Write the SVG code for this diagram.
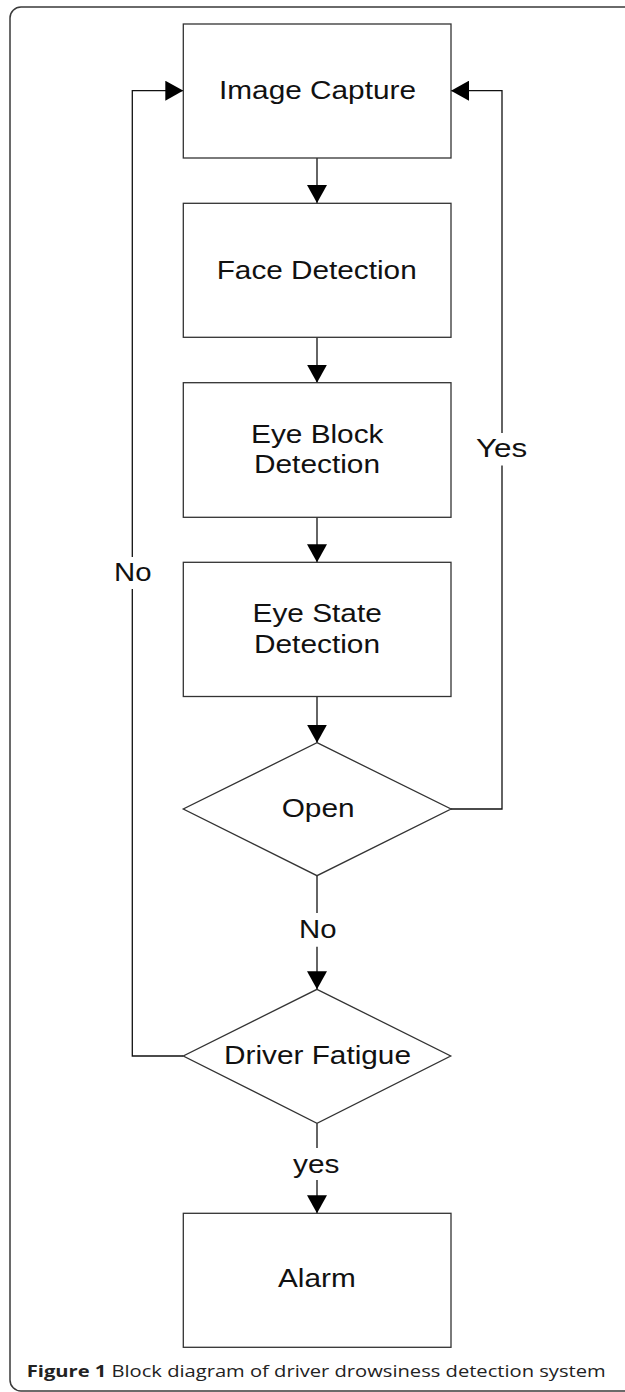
<svg xmlns="http://www.w3.org/2000/svg" width="625" height="1392" viewBox="0 0 625 1392">
  <style>
    .frame { fill: none; stroke: #3a3a3a; stroke-width: 1.5; }
    .box { fill: #ffffff; stroke: #333333; stroke-width: 1.3; }
    .wire { fill: none; stroke: #111111; stroke-width: 1.3; }
    .wire.arrow { marker-end: url(#head); }
    .lbl { font-family: "Liberation Sans", Arial, sans-serif; font-size: 26px; fill: #111111; }
    .cap { font-family: "Open Sans", "Noto Sans", sans-serif; font-size: 16px; fill: #222222; }
    .cap .b { font-weight: bold; }
  </style>
  <defs>
    <marker id="head" markerUnits="userSpaceOnUse" markerWidth="18" markerHeight="20" refX="18" refY="10" orient="auto">
      <path d="M0,0 L18,10 L0,20 Z" fill="#000000"/>
    </marker>
  </defs>

  <rect x="0" y="0" width="625" height="1392" fill="#ffffff"/>
  <!-- figure frame, right side runs past the page edge -->
  <rect class="frame" x="10" y="7" width="640" height="1384" rx="11" ry="11"/>

  <g id="connectors">
    <path class="wire arrow" d="M317,158 V203"/>
    <path class="wire arrow" d="M317,337.5 V382.7"/>
    <path class="wire arrow" d="M317,517.3 V562.3"/>
    <path class="wire arrow" d="M317,696.5 V742.7"/>
    <!-- Open: No -->
    <path class="wire" d="M317,875.7 V913"/>
    <path class="wire arrow" d="M317,946.7 V989.3"/>
    <!-- Open: Yes, back to capture -->
    <path class="wire" d="M451,809 H502 V465.5"/>
    <path class="wire arrow" d="M502,433 V90.7 H451"/>
    <!-- Driver Fatigue: No, back to capture -->
    <path class="wire" d="M183.3,1056 H132.3 V589"/>
    <path class="wire arrow" d="M132.3,557 V90.7 H183.3"/>
    <!-- Driver Fatigue: yes -->
    <path class="wire" d="M317,1123.3 V1148"/>
    <path class="wire arrow" d="M317,1180 V1213.3"/>

    <text class="lbl" x="476" y="457" textLength="51.3" lengthAdjust="spacingAndGlyphs">Yes</text>
    <text class="lbl" x="114" y="580.7" textLength="37.5" lengthAdjust="spacingAndGlyphs">No</text>
    <text class="lbl" x="299" y="938" textLength="37.5" lengthAdjust="spacingAndGlyphs">No</text>
    <text class="lbl" x="293" y="1173" textLength="46.4" lengthAdjust="spacingAndGlyphs">yes</text>
  </g>

  <g id="image-capture">
    <rect class="box" x="183.3" y="24" width="267.7" height="134"/>
    <text class="lbl" x="219" y="99" textLength="197" lengthAdjust="spacingAndGlyphs">Image Capture</text>
  </g>

  <g id="face-detection">
    <rect class="box" x="183.3" y="203.3" width="267.7" height="134"/>
    <text class="lbl" x="216.7" y="279" textLength="200" lengthAdjust="spacingAndGlyphs">Face Detection</text>
  </g>

  <g id="eye-block-detection">
    <rect class="box" x="183.3" y="382.7" width="267.7" height="134.6"/>
    <text class="lbl" x="251" y="442.7" textLength="132.5" lengthAdjust="spacingAndGlyphs">Eye Block</text>
    <text class="lbl" x="254" y="472.7" textLength="126" lengthAdjust="spacingAndGlyphs">Detection</text>
  </g>

  <g id="eye-state-detection">
    <rect class="box" x="183.3" y="562.3" width="267.7" height="134.2"/>
    <text class="lbl" x="252.6" y="621.7" textLength="129.2" lengthAdjust="spacingAndGlyphs">Eye State</text>
    <text class="lbl" x="254" y="652.7" textLength="126" lengthAdjust="spacingAndGlyphs">Detection</text>
  </g>

  <g id="open">
    <polygon class="box" points="317,742.7 451,809 317,875.7 183.3,809"/>
    <text class="lbl" x="281.7" y="816.7" textLength="72.9" lengthAdjust="spacingAndGlyphs">Open</text>
  </g>

  <g id="driver-fatigue">
    <polygon class="box" points="317,989.3 450.7,1056 317,1123.3 183.3,1056"/>
    <text class="lbl" x="224" y="1064" textLength="187" lengthAdjust="spacingAndGlyphs">Driver Fatigue</text>
  </g>

  <g id="alarm">
    <rect class="box" x="183.3" y="1213.3" width="267.7" height="134"/>
    <text class="lbl" x="278" y="1287.3" textLength="77.8" lengthAdjust="spacingAndGlyphs">Alarm</text>
  </g>

  <text class="cap" x="26.7" y="1376.7" textLength="579" lengthAdjust="spacingAndGlyphs"><tspan class="b">Figure 1</tspan> Block diagram of driver drowsiness detection system</text>
</svg>
